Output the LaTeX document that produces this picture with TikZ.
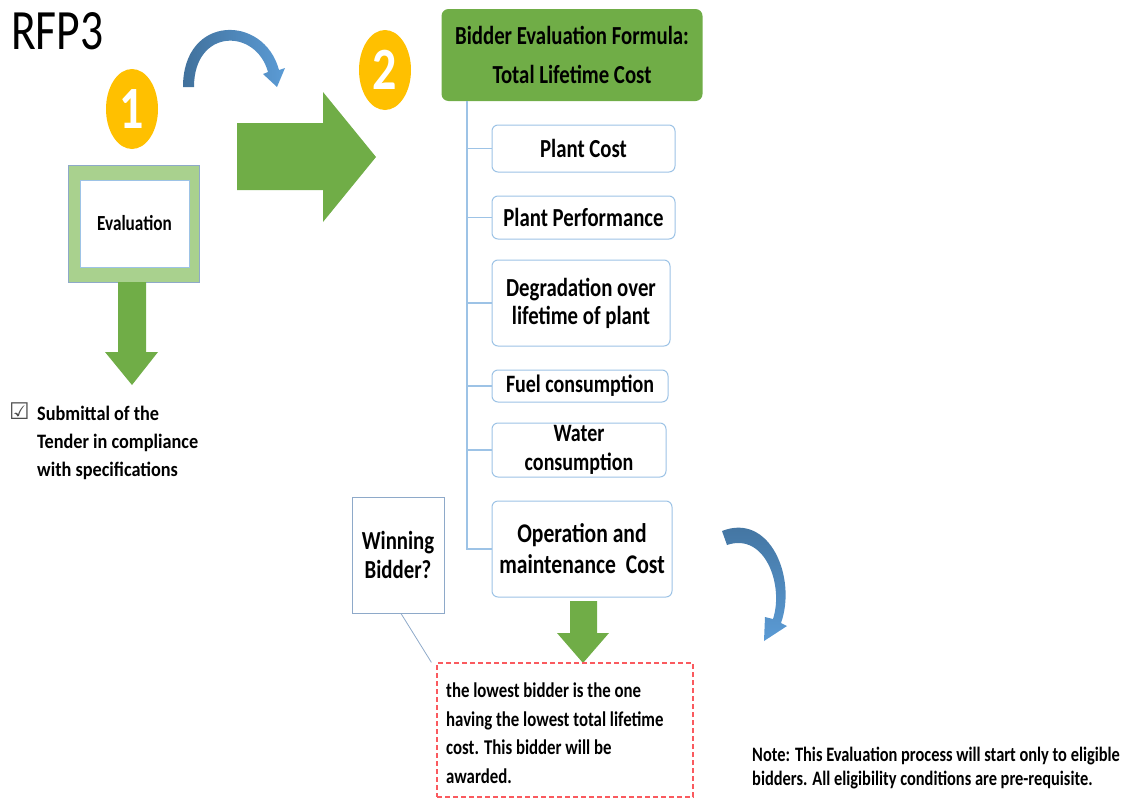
\documentclass[tikz,border=0pt]{standalone}
\usepackage{fontspec}
\setmainfont{Carlito}[FakeStretch=0.8]
\newfontfamily\widerfont{Carlito}[FakeStretch=0.89]
\newfontfamily\symbolfont{DejaVu Sans}
\usetikzlibrary{shapes.geometric}

\definecolor{leafgreen}{HTML}{70AD47}
\definecolor{palegreen}{HTML}{A9D18E}
\definecolor{gold}{HTML}{FFC000}
\definecolor{paleblue}{HTML}{9DC3E6}
\definecolor{midblue}{HTML}{5B9BD5}
\definecolor{deepblue}{HTML}{41719C}
\definecolor{framegray}{HTML}{8EA9C9}
\definecolor{rulered}{RGB}{250,90,95}

\tikzset{
  itembox/.style={draw=paleblue, line width=1pt, rounded corners=6pt, fill=white,
    inner sep=0pt, align=center, font=\bfseries\fontsize{26}{28}\selectfont},
  branch/.style={draw=paleblue, line width=1.3pt},
  badge/.style={ellipse, fill=gold, minimum width=52pt, minimum height=80pt,
    inner sep=0pt, text=white, font=\bfseries\fontsize{60}{60}\selectfont},
  greenarrow/.style={fill=leafgreen},
  bluearrow/.style={top color=deepblue, bottom color=midblue},
  rulebox/.style={draw=rulered, line width=1.2pt, dash pattern=on 5pt off 3pt},
}

\begin{document}
\begin{tikzpicture}[x=1pt, y=-1pt]
\useasboundingbox (0,0) rectangle (1130,798);

% title
\node[anchor=west, inner sep=0pt, font=\fontsize{57}{60}\selectfont] (title) at (11,31.5) {RFP3};

% step badges
\node[badge] (one) at (132,109) {1};
\node[badge] (two) at (385,70) {2};

% curved arrow between the steps
\shade[left color=deepblue, right color=midblue]
  (183,87) .. controls (183,14) and (264,14) .. (279,70) -- (285,68) -- (277,87)
  -- (263,74) -- (268,72) .. controls (256,28) and (194,28) .. (194,87) -- cycle;

% step 1: evaluation
\node[draw=framegray, fill=palegreen, line width=0.6pt, minimum width=131pt,
  minimum height=117pt, inner sep=0pt] (evalframe) at (133.5,223.5) {};
\node[draw=paleblue, fill=white, line width=0.8pt, minimum width=109pt,
  minimum height=87pt, inner sep=0pt, font=\bfseries\fontsize{21.5}{24}\selectfont]
  (eval) at (134.5,223.5) {Evaluation};

% down arrow from the evaluation
\fill[greenarrow] (118,282) -- (146,282) -- (146,352) -- (158,352) -- (132,385)
  -- (105,352) -- (118,352) -- cycle;

% compliance checklist
\node[inner sep=0pt, text=black!70, font=\symbolfont\fontsize{23}{24}\selectfont] (tick) at (19.5,411) {☑};
\node[anchor=north west, inner sep=0pt, align=left,
  font=\widerfont\bfseries\fontsize{20.5}{28}\selectfont] (submit) at (37,405.5)
  {Submittal of the\\Tender in compliance\\with specifications};

% big arrow towards step 2
\fill[greenarrow] (237,123) -- (323,123) -- (323,92) -- (376,157) -- (323,222)
  -- (323,190) -- (237,190) -- cycle;

% step 2: evaluation formula and its cost items
\node[fill=leafgreen, rounded corners=7pt, minimum width=261pt, minimum height=92pt,
  inner sep=0pt, align=center, font=\bfseries\fontsize{26}{39}\selectfont]
  (formula) at (572,55) {Bidder Evaluation Formula:\\Total Lifetime Cost};

\node[itembox, minimum width=183pt, minimum height=47pt] (plantcost) at (583.5,148.5) {Plant Cost};
\node[itembox, minimum width=183pt, minimum height=43pt] (perf) at (583.5,217.5) {Plant Performance};
\node[itembox, minimum width=178pt, minimum height=86pt] (degr) at (581,303)
  {Degradation over\\lifetime of plant};
\node[itembox, minimum width=176pt, minimum height=32pt, font=\bfseries\fontsize{25}{28}\selectfont]
  (fuel) at (580,386) {Fuel consumption};
\node[itembox, minimum width=174pt, minimum height=54pt, font=\bfseries\fontsize{25}{29}\selectfont]
  (water) at (579,450) {Water\\consumption};
\node[itembox, minimum width=180pt, minimum height=96pt, font=\bfseries\fontsize{27}{31}\selectfont]
  (om) at (582,549) {Operation and\\maintenance\ \ Cost};

\coordinate (spine) at (467,101);
\draw[branch] (spine) |- (om.west);
\foreach \item in {plantcost, perf, degr, fuel, water}
  \draw[branch] (spine) |- (\item.west);

% question box
\node[draw=framegray, fill=white, line width=1pt, minimum width=92pt, minimum height=116pt,
  inner sep=0pt, align=center, font=\bfseries\fontsize{26}{29}\selectfont]
  (winner) at (398,555) {Winning\\Bidder?};

% arrow down to the award rule
\fill[greenarrow] (570,601) -- (597,601) -- (597,633) -- (609,633) -- (583,663)
  -- (557,633) -- (570,633) -- cycle;

% award rule
\node[rulebox, minimum width=256pt, minimum height=134pt, inner sep=0pt] (award) at (565,730) {};
\node[anchor=north west, inner sep=0pt, align=left,
  font=\bfseries\fontsize{21}{28.7}\selectfont] (awardtext) at (446,682.5)
  {the lowest bidder is the one\\having the lowest total lifetime\\cost. This bidder will be\\awarded.};

\draw[framegray, line width=0.8pt] ([xshift=3pt]winner.south) -- ([xshift=-5pt]award.north west);

% curved arrow on the right
\shade[bluearrow]
  (722,531) -- (727,545) .. controls (765,532) and (784,585) .. (773,619) -- (765,617)
  -- (764,641) -- (787,626) -- (781,623) .. controls (797,578) and (770,512) .. (722,531) -- cycle;

% note
\node[anchor=north west, inner sep=0pt, align=left,
  font=\bfseries\fontsize{20.5}{24}\selectfont] (note) at (752,747)
  {Note: This Evaluation process will start only to eligible\\bidders. All eligibility conditions are pre-requisite.};
\end{tikzpicture}
\end{document}
